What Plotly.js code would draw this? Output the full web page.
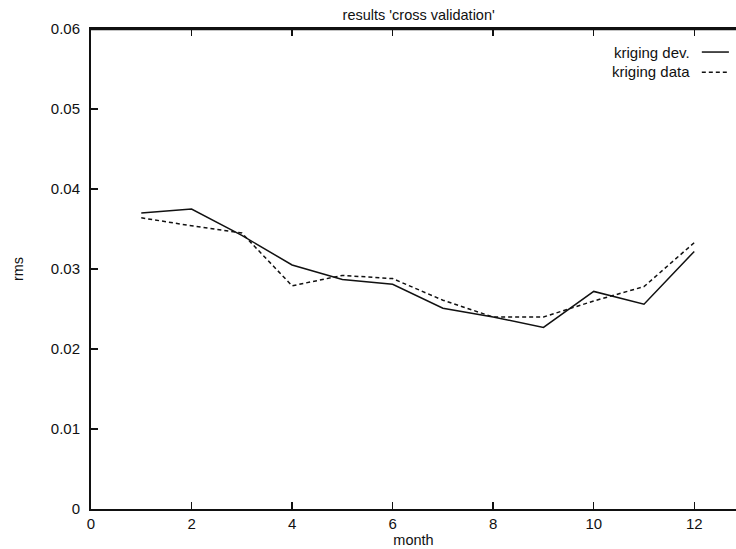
<!DOCTYPE html>
<html>
<head>
<meta charset="utf-8">
<script src="https://cdn.plot.ly/plotly-3.0.1.min.js"></script>
<style>html,body{margin:0;padding:0;background:#fff;}#chart{width:736px;height:549px;}</style>
</head>
<body>
<div id="chart"></div>
<script>
// Data
const months = [1, 2, 3, 4, 5, 6, 7, 8, 9, 10, 11, 12];
const krigingDev = [0.0370, 0.0375, 0.0342, 0.0305, 0.0287, 0.0281, 0.0251, 0.0240, 0.0227, 0.0272, 0.0256, 0.0322];
const krigingData = [0.0364, 0.0354, 0.0345, 0.0279, 0.0292, 0.0288, 0.0261, 0.0240, 0.0240, 0.0260, 0.0278, 0.0333];
const seriesNames = ["kriging dev.", "kriging data"];
const xTicks = [0, 2, 4, 6, 8, 10, 12];
const yTicks = [0, 0.01, 0.02, 0.03, 0.04, 0.05, 0.06];
const yTickLabels = ["0", "0.01", "0.02", "0.03", "0.04", "0.05", "0.06"];

const FONT = "Liberation Sans, Arial, Helvetica, sans-serif";
const INK = "#111111";

const traces = [
  {x: months, y: krigingDev, type: "scatter", mode: "lines", name: seriesNames[0],
   line: {color: INK, width: 1.5}},
  {x: months, y: krigingData, type: "scatter", mode: "lines", name: seriesNames[1],
   line: {color: INK, width: 1.5, dash: "4px,3px"}}
];

const layout = {
  width: 736, height: 549,
  margin: {l: 91, r: 0, t: 29, b: 40},
  paper_bgcolor: "#fff", plot_bgcolor: "#fff",
  showlegend: false,
  font: {family: FONT, size: 15, color: INK},
  title: {text: "results 'cross validation'", font: {family: FONT, size: 14.5, color: INK},
          x: 0.508, xanchor: "center", xref: "paper", y: 0.972, yanchor: "middle"},
  xaxis: {
    range: [0, 12.83], tickvals: xTicks, ticktext: xTicks.map(String),
    showgrid: false, zeroline: false, showline: true, linecolor: INK, linewidth: 2,
    mirror: "ticks", ticks: "inside", ticklen: 7, tickwidth: 1.5, tickcolor: INK,
    tickfont: {family: FONT, size: 15, color: INK},
    title: {text: "month", font: {family: FONT, size: 14.5, color: INK}, standoff: 2},
    automargin: false
  },
  yaxis: {
    range: [0, 0.06], tickvals: yTicks, ticktext: yTickLabels,
    showgrid: false, zeroline: false, showline: true, linecolor: INK, linewidth: 2,
    mirror: false, ticks: "inside", ticklen: 7, tickwidth: 1.5, tickcolor: INK,
    tickfont: {family: FONT, size: 15, color: INK},
    ticklabelstandoff: 6,
    title: {text: "rms", font: {family: FONT, size: 14.5, color: INK}, standoff: 24},
    automargin: false
  },
  annotations: [
    {xref: "paper", yref: "paper", x: 0.9316, y: 0.952, xanchor: "right", yanchor: "middle",
     text: seriesNames[0], showarrow: false, font: {family: FONT, size: 15, color: INK}},
    {xref: "paper", yref: "paper", x: 0.9316, y: 0.9125, xanchor: "right", yanchor: "middle",
     text: seriesNames[1], showarrow: false, font: {family: FONT, size: 15, color: INK}}
  ],
  shapes: [
    // top frame line of the plot box
    {type: "line", xref: "paper", yref: "paper", x0: 0, x1: 1, y0: 1, y1: 1,
     line: {color: INK, width: 2.5}},
    // legend samples
    {type: "line", xref: "paper", yref: "paper", x0: 0.947, x1: 0.989, y0: 0.952, y1: 0.952,
     line: {color: INK, width: 1.5}},
    {type: "line", xref: "paper", yref: "paper", x0: 0.947, x1: 0.989, y0: 0.910, y1: 0.910,
     line: {color: INK, width: 1.5, dash: "4px,3px"}}
  ]
};

Plotly.newPlot("chart", traces, layout, {displayModeBar: false, staticPlot: true});
</script>
</body>
</html>
